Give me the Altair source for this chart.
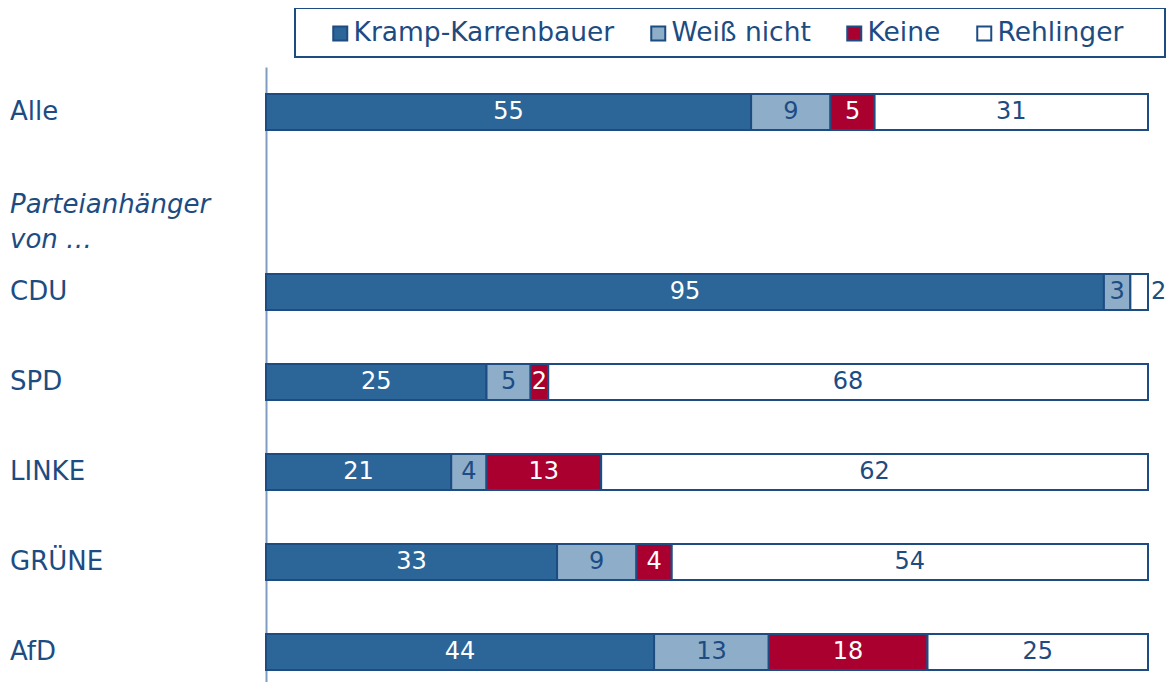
import altair as alt
import pandas as pd

# ---- data ----
rows = ["Alle", "Parteianhänger\nvon …", "CDU", "SPD", "LINKE", "GRÜNE", "AfD"]
is_header = [False, True, False, False, False, False, False]
series = ["Kramp-Karrenbauer", "Weiß nicht", "Keine", "Rehlinger"]
kk = [55, 0, 95, 25, 21, 33, 44]
weiss = [9, 0, 3, 5, 4, 9, 13]
keine = [5, 0, 0, 2, 13, 4, 18]
rehl = [31, 0, 2, 68, 62, 54, 25]
colors = ["#2C6699", "#8DADC9", "#AA0030", "#FFFFFF"]
light_text = [True, False, True, False]

DARK = "#1C4C82"
FONT = "DejaVu Sans"

recs = []
for i, r in enumerate(rows):
    if is_header[i]:
        continue
    start = 0
    for j, (s, vals) in enumerate(zip(series, [kk, weiss, keine, rehl])):
        v = vals[i]
        if v == 0:
            continue
        end = start + v
        outside = bool((j == len(series) - 1) and v <= 2)
        recs.append(dict(row=i, series=s, value=v, start=start, end=end,
                         mid=(start + end) / 2, light=light_text[j],
                         outside=outside))
        start = end
bars = pd.DataFrame(recs)
labels = pd.DataFrame(dict(row=list(range(len(rows))), label=rows, header=is_header))

W, H = 882, 615
STEP = 90
ymax = -0.5 + H / STEP

yscale = alt.Scale(domain=[-0.5, ymax], reverse=True, nice=False, zero=False, padding=0)
yaxis = alt.Axis(labels=False, ticks=False, title=None, grid=False,
                 domainColor="#7F9DC0", domainWidth=2)
yenc = alt.Y("row:Q", scale=yscale, axis=yaxis)
xscale = alt.Scale(domain=[0, 100], nice=False, zero=True, padding=0)

base = alt.Chart(bars)

bar_layer = base.mark_bar(size=36, stroke=DARK, strokeWidth=2).encode(
    x=alt.X("start:Q", scale=xscale, axis=None),
    x2="end:Q",
    y=yenc,
    color=alt.Color("series:N",
                    scale=alt.Scale(domain=series, range=colors),
                    legend=alt.Legend(title=None, orient="none", direction="horizontal",
                                      legendX=61, legendY=-47, padding=0,
                                      labelFontSize=26.5, labelFont=FONT, labelColor=DARK,
                                      labelLimit=500,
                                      symbolType="square", symbolSize=196,
                                      symbolStrokeColor=DARK, symbolStrokeWidth=2,
                                      columnPadding=30, labelOffset=0)),
)

white_text = base.transform_filter("!datum.outside && datum.light").mark_text(
    font=FONT, fontSize=24, baseline="middle", align="center", color="#FFFFFF").encode(
    x=alt.X("mid:Q", scale=xscale, axis=None), y=yenc, text="value:Q")

dark_text = base.transform_filter("!datum.outside && !datum.light").mark_text(
    font=FONT, fontSize=24, baseline="middle", align="center", color=DARK).encode(
    x=alt.X("mid:Q", scale=xscale, axis=None), y=yenc, text="value:Q")

outside_text = base.transform_filter("datum.outside").mark_text(
    font=FONT, fontSize=24, baseline="middle", align="left", dx=3, color=DARK).encode(
    x=alt.X("end:Q", scale=xscale, axis=None), y=yenc, text="value:Q")

row_labels = alt.Chart(labels).transform_filter("!datum.header").mark_text(
    font=FONT, fontSize=26, align="left", baseline="middle", color=DARK).encode(
    x=alt.value(-256), y=yenc, text="label:N")

header_labels = alt.Chart(labels).transform_filter("datum.header").mark_text(
    font=FONT, fontSize=26, fontStyle="italic", align="left", baseline="middle",
    color=DARK, lineBreak="\n", lineHeight=35, dy=3).encode(
    x=alt.value(-256), y=yenc, text="label:N")

legend_box = alt.Chart(pd.DataFrame({"k": [0]})).mark_rect(
    fill="white", stroke=DARK, strokeWidth=2).encode(
    x=alt.value(29), x2=alt.value(899), y=alt.value(-59), y2=alt.value(-10))

chart = alt.layer(legend_box, bar_layer, white_text, dark_text, outside_text,
                  row_labels, header_labels).properties(
    width=W, height=H,
    background="white",
    autosize=alt.AutoSizeParams(type="none"),
    padding={"left": 258, "top": 59, "right": 18, "bottom": 0},
).configure_view(stroke=None)

chart.save("out.html", embed_options={"renderer": "svg", "actions": False})
